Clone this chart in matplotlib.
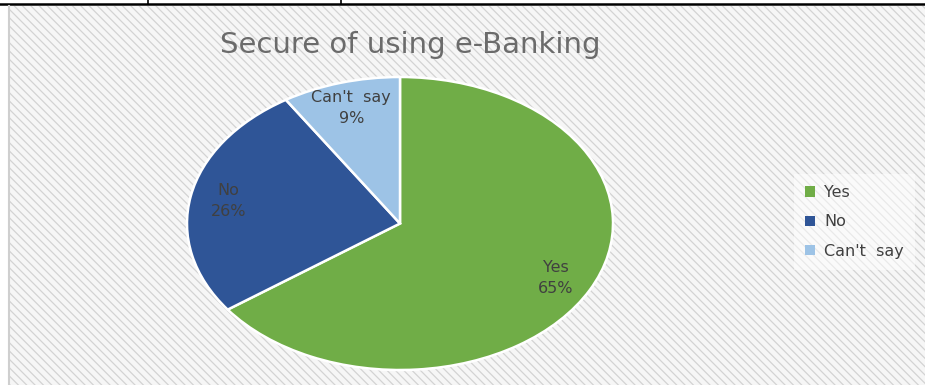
import matplotlib.pyplot as plt
from matplotlib.patches import Rectangle, Patch
from matplotlib.lines import Line2D

categories = ['Yes', 'No', "Can't  say"]
shares = [65, 26, 9]
colours = ['#70AD47', '#2F5597', '#9DC3E6']

W, H = 925, 385
plt.rcParams['hatch.linewidth'] = 0.9

fig = plt.figure(figsize=(W / 100, H / 100), dpi=100)
fig.patch.set_facecolor('white')

# hatched chart background
bg = Rectangle((10 / W, 0), 1 - 10 / W, 1 - 6 / H, transform=fig.transFigure,
               facecolor='#f6f6f6', edgecolor='#d3d3d3', hatch='\\\\\\\\',
               linewidth=0, zorder=-5)
fig.patches.append(bg)

# table rules around the chart
fig.lines.append(Line2D([0, 1], [1 - 4 / H] * 2, transform=fig.transFigure,
                        color='black', linewidth=1.8))
for x in (148, 341):
    fig.lines.append(Line2D([x / W] * 2, [1 - 4 / H, 1], transform=fig.transFigure,
                            color='black', linewidth=1.2))
fig.lines.append(Line2D([9 / W] * 2, [0, 1 - 6 / H], transform=fig.transFigure,
                        color='#cfcfcf', linewidth=1.5))

# pie axes stretched into an ellipse
ax = fig.add_axes([187 / W, 15 / H, 426 / W, 293 / H])
ax.set_zorder(2)
wedges, _, autotexts = ax.pie(shares, colors=colours, startangle=90, counterclock=False,
                              autopct=lambda p: '', pctdistance=0.82,
                              wedgeprops=dict(edgecolor='white', linewidth=1.8))
for t, lab, v in zip(autotexts, categories, shares):
    t.set_text(f'{lab}\n{v}%')
    t.set_fontsize(11.5)
    t.set_color('#404040')
    t.set_linespacing(1.45)
    t.set_ha('center')
    t.set_va('center')
ax.set_aspect('auto')
ax.set_xlim(-1, 1)
ax.set_ylim(-1, 1)
ax.axis('off')

fig.text(410 / W, 1 - 45 / H, 'Secure of using e-Banking', fontsize=21,
         color='#6b6b6b', ha='center', va='center')

handles = [Patch(facecolor=c, edgecolor='none') for c in colours]
leg = fig.legend(handles, categories, loc='center left',
                 bbox_to_anchor=(786 / W, 1 - 222 / H), fontsize=11.5,
                 handlelength=0.6, handleheight=0.6, handletextpad=0.6,
                 labelspacing=0.9, borderpad=0.7, frameon=True, fancybox=False)
leg.get_frame().set_facecolor('white')
leg.get_frame().set_alpha(0.5)
leg.get_frame().set_edgecolor('none')
for t in leg.get_texts():
    t.set_color('#404040')

fig.savefig('out.png', dpi=100)
